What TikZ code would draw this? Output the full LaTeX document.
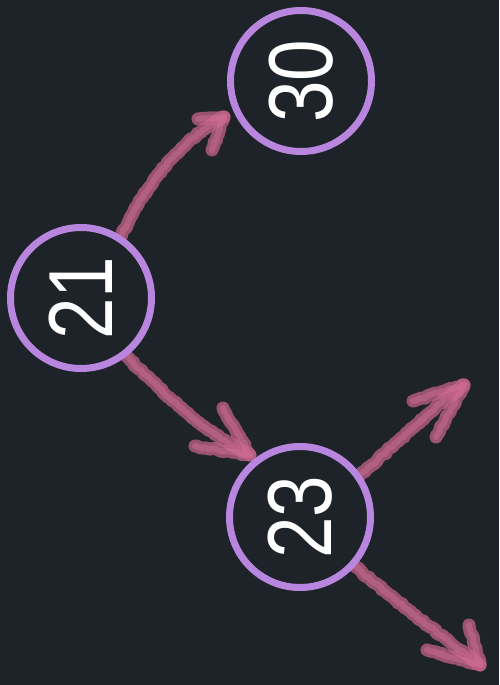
\documentclass[tikz,border=0pt]{standalone}
\usepackage{fontspec}
\setmainfont{Liberation Sans}
\usetikzlibrary{decorations.pathmorphing}
\definecolor{bgc}{HTML}{1E2329}
\definecolor{ringc}{HTML}{B886DE}
\definecolor{chalkc}{HTML}{C4638A}
\definecolor{chalklight}{HTML}{E07AA2}
\pgfdeclarelayer{bg}
\pgfdeclarelayer{back}
\pgfsetlayers{back,bg,main}
\tikzset{
  numnode/.style={circle, draw=ringc, line width=7pt, fill=bgc, minimum size=141pt, inner sep=0pt, text=white, font=\fontsize{91}{91}\selectfont},
  chalkbase/.style={line cap=round, line join=round, decorate, decoration={random steps, segment length=3pt, amplitude=1pt}},
  chalk/.style={chalkbase, draw=chalkc, line width=13pt, opacity=0.75,
    postaction={chalkbase, draw=chalklight, line width=6pt, opacity=0.35}},
}
\begin{document}
\begin{tikzpicture}[x=1pt,y=-1pt]
\begin{pgfonlayer}{back}
\fill[bgc] (0,0) rectangle (499,685);
\end{pgfonlayer}
\useasboundingbox (0,0) rectangle (499,685);

\node[numnode] (n21) at (81,298) {\rotatebox{90}{\scalebox{0.82}[1]{21}}};
\node[numnode] (n30) at (301,81) {\rotatebox{90}{\scalebox{0.82}[1]{30}}};
\node[numnode] (n23) at (300,517) {\rotatebox{90}{\scalebox{0.82}[1]{23}}};

\coordinate (t1) at (224,117);
\coordinate (b1a) at (198,119);
\coordinate (b1b) at (212,150);

\coordinate (t2) at (250,455);
\coordinate (b2a) at (223,408);
\coordinate (b2b) at (195,446);

\coordinate (t3) at (464,385);
\coordinate (b3a) at (413,401);
\coordinate (b3b) at (436,437);

\coordinate (t4) at (480,665);
\coordinate (b4a) at (469,625);
\coordinate (b4b) at (427,650);

\begin{pgfonlayer}{bg}
\draw[chalk] (n21.57) .. controls (145,185) and (180,140) .. (t1);
\draw[chalk] (b1a) -- (t1) -- (b1b);

\draw[chalk] (n21.-52) .. controls (170,400) and (210,435) .. (t2);
\draw[chalk] (b2a) -- (t2) -- (b2b);

\draw[chalk] (n23.35) .. controls (395,445) and (430,410) .. (t3);
\draw[chalk] (b3a) -- (t3) -- (b3b);

\draw[chalk] (n23.-42) .. controls (395,600) and (440,635) .. (t4);
\draw[chalk] (b4a) -- (t4) -- (b4b);
\end{pgfonlayer}
\end{tikzpicture}
\end{document}
